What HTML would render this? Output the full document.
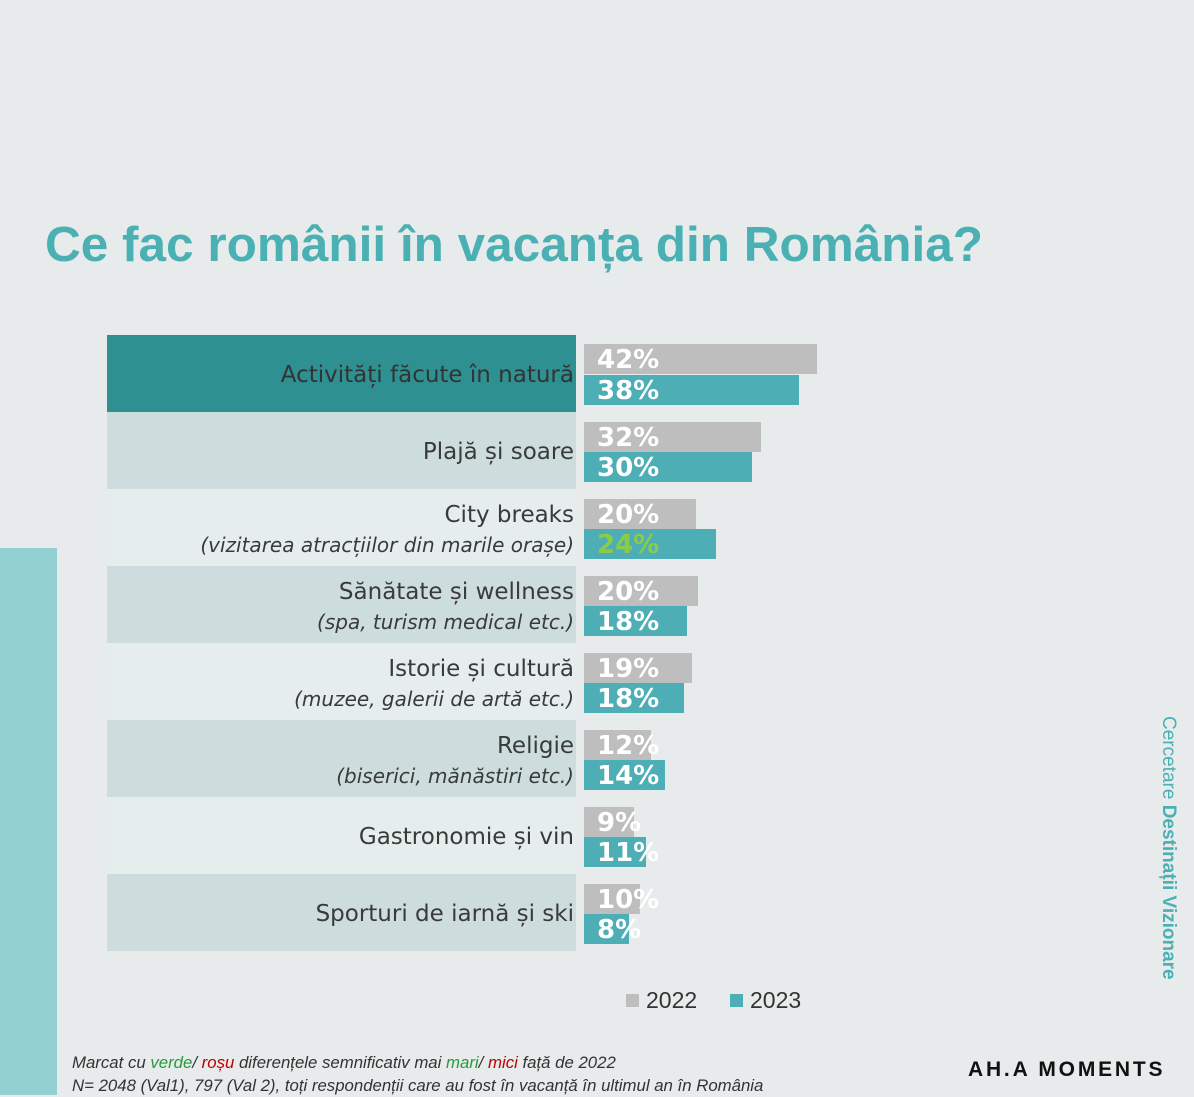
<!DOCTYPE html>
<html><head><meta charset="utf-8"><style>
body{margin:0;width:1194px;height:1095px;background:#e7ebeb;position:relative;overflow:hidden;font-family:"Liberation Sans",sans-serif}
.a{position:absolute}
.row{position:absolute;left:107px;width:469px;height:77px;text-align:right;color:#3a3a3a;font-size:23px;box-sizing:border-box;padding-right:2px;font-family:"DejaVu Sans",sans-serif}
.row i{font-size:20px}
.bar{position:absolute;left:584px;height:30px}
.g{background:#bfbebe}.t{background:#4eaeb5}
.lb{position:absolute;left:597px;color:#fff;font-weight:bold;font-size:26px;line-height:30px;font-family:"DejaVu Sans",sans-serif}
</style></head><body>
<div class="a" style="left:0;top:548px;width:57px;height:547px;background:#93d0d2"></div>
<div class="a" style="left:45px;top:216px;font-size:49.5px;font-weight:bold;color:#4bb0b3">Ce fac românii în vacanța din România?</div>

<div class="row" style="top:335px;background:#2e9090;line-height:80px;color:#333">Activități făcute în natură</div>
<div class="row" style="top:412px;background:#cddddd;line-height:80px">Plajă și soare</div>
<div class="row" style="top:489px;background:#e5eded;padding-top:11px;line-height:30px">City breaks<br><i>(vizitarea atracțiilor din marile orașe)</i></div>
<div class="row" style="top:566px;background:#cddddd;padding-top:11px;line-height:30px">Sănătate și wellness<br><i>(spa, turism medical etc.)</i></div>
<div class="row" style="top:643px;background:#e5eded;padding-top:11px;line-height:30px">Istorie și cultură<br><i>(muzee, galerii de artă etc.)</i></div>
<div class="row" style="top:720px;background:#cddddd;padding-top:11px;line-height:30px">Religie<br><i>(biserici, mănăstiri etc.)</i></div>
<div class="row" style="top:797px;background:#e5eded;line-height:80px">Gastronomie și vin</div>
<div class="row" style="top:874px;background:#cddddd;line-height:80px">Sporturi de iarnă și ski</div>

<div class="bar g" style="top:344px;width:233px"></div><div class="bar t" style="top:375px;width:215px"></div>
<div class="lb" style="top:345px">42%</div><div class="lb" style="top:376px">38%</div>
<div class="bar g" style="top:422px;width:177px"></div><div class="bar t" style="top:452px;width:168px"></div>
<div class="lb" style="top:423px">32%</div><div class="lb" style="top:453px">30%</div>
<div class="bar g" style="top:499px;width:112px"></div><div class="bar t" style="top:529px;width:132px"></div>
<div class="lb" style="top:500px">20%</div><div class="lb" style="top:530px;color:#8bcb4a">24%</div>
<div class="bar g" style="top:576px;width:114px"></div><div class="bar t" style="top:606px;width:103px"></div>
<div class="lb" style="top:577px">20%</div><div class="lb" style="top:607px">18%</div>
<div class="bar g" style="top:653px;width:108px"></div><div class="bar t" style="top:683px;width:100px"></div>
<div class="lb" style="top:654px">19%</div><div class="lb" style="top:684px">18%</div>
<div class="bar g" style="top:730px;width:67px"></div><div class="bar t" style="top:760px;width:81px"></div>
<div class="lb" style="top:731px">12%</div><div class="lb" style="top:761px">14%</div>
<div class="bar g" style="top:807px;width:50px"></div><div class="bar t" style="top:837px;width:62px"></div>
<div class="lb" style="top:808px">9%</div><div class="lb" style="top:838px">11%</div>
<div class="bar g" style="top:884px;width:56px"></div><div class="bar t" style="top:914px;width:45px"></div>
<div class="lb" style="top:885px">10%</div><div class="lb" style="top:915px">8%</div>

<div class="a" style="left:626px;top:994px;width:13px;height:13px;background:#bfbebe"></div>
<div class="a" style="left:646px;top:987px;font-size:23px;color:#333">2022</div>
<div class="a" style="left:730px;top:994px;width:13px;height:13px;background:#4eaeb5"></div>
<div class="a" style="left:750px;top:987px;font-size:23px;color:#333">2023</div>

<div class="a" style="left:1157px;top:716px;writing-mode:vertical-rl;font-size:19px;color:#4bb0b3">Cercetare <b>Destinații Vizionare</b></div>

<div class="a" style="left:72px;top:1051px;font-size:16.8px;font-style:italic;color:#333;line-height:23px">Marcat cu <span style="color:#2a9a3a">verde</span>/ <span style="color:#c00000">roșu</span> diferențele semnificativ mai <span style="color:#2a9a3a">mari</span>/ <span style="color:#c00000">mici</span> față de 2022<br>N= 2048 (Val1), 797 (Val 2), toți respondenții care au fost în vacanță în ultimul an în România</div>
<div class="a" style="left:968px;top:1058px;font-size:21px;letter-spacing:2.8px;color:#111;font-weight:bold">AH.A MOMENTS</div>
</body></html>
